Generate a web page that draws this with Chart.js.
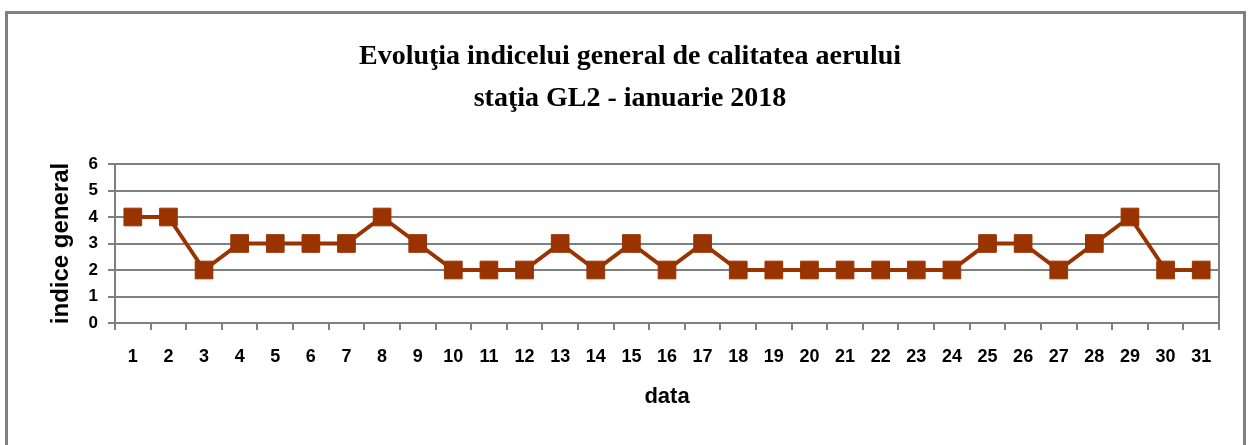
<!DOCTYPE html>
<html>
<head>
<meta charset="utf-8">
<script src="https://cdn.jsdelivr.net/npm/chart.js@4.4.0/dist/chart.umd.min.js"></script>
<style>
  body { margin: 0; background: #fff; overflow: hidden; }
  .frame {
    position: absolute; left: 5px; top: 11px;
    width: 1235px; height: 460px;
    border: 3px solid #808080;
  }
  .frame canvas { display: block; }
</style>
</head>
<body>
<div class="frame">
  <canvas id="chart" width="1235" height="431"></canvas>
</div>
<script>
// zilele lunii ianuarie 2018
const days = ['1','2','3','4','5','6','7','8','9','10','11','12','13','14','15','16',
              '17','18','19','20','21','22','23','24','25','26','27','28','29','30','31'];
// indicele general, statia GL2
const indexValues = [4,4,2,3,3,3,3,4,3,2,2,2,3,2,3,2,3,2,2,2,2,2,2,2,3,3,2,3,4,2,2];
const yTicks = [0,1,2,3,4,5,6];

const titleLines = ['Evoluţia indicelui general de calitatea aerului', 'staţia GL2 - ianuarie 2018'];
const grey = '#808080';
const brown = '#993300';

const config = {
    type: 'line',
    data: {
        labels: days,
        datasets: [{
            label: 'indice general',
            data: indexValues,
            borderColor: brown,
            backgroundColor: brown,
            borderWidth: 4,
            pointStyle: 'rect',
            pointRadius: 12.5,
            pointBorderWidth: 1,
            pointBorderColor: brown,
            pointBackgroundColor: brown,
            tension: 0
        }]
    },
    options: {
        responsive: false,
        animation: false,
        layout: { padding: { left: 33, right: 24, top: 0, bottom: 35 } },
        plugins: {
            legend: { display: false },
            tooltip: { enabled: false },
            title: {
                display: true,
                text: titleLines,
                color: '#000',
                font: { family: 'Liberation Serif', size: 28, weight: 'bold', lineHeight: 1.5 },
                padding: { top: 22, bottom: 44 }
            }
        },
        scales: {
            x: {
                offset: true,
                grid: { display: true, offset: true, drawOnChartArea: false, drawTicks: true,
                        tickLength: 7, color: grey, lineWidth: 2 },
                border: { display: true, color: grey, width: 2 },
                ticks: { color: '#000', padding: 16, maxRotation: 0, autoSkip: false,
                         font: { family: 'Liberation Sans', size: 18, weight: 'bold' } },
                title: { display: true, text: 'data', color: '#000', padding: { top: 0, bottom: 0 },
                         font: { family: 'Liberation Sans', size: 22, weight: 'bold' } }
            },
            y: {
                min: 0, max: 6,
                afterBuildTicks: (axis) => { axis.ticks = yTicks.map(v => ({ value: v })); },
                afterFit: (axis) => { axis.width = 74; },
                grid: { color: grey, lineWidth: 2, tickLength: 7 },
                border: { display: true, color: grey, width: 2 },
                ticks: { color: '#000', padding: 10,
                         font: { family: 'Liberation Sans', size: 17, weight: 'bold' } },
                title: { display: true, text: 'indice general', color: '#000', padding: 6,
                         font: { family: 'Liberation Sans', size: 24, weight: 'bold' } }
            },
            yRight: {
                position: 'right',
                min: 0, max: 6,
                grid: { drawOnChartArea: false, drawTicks: false },
                border: { display: true, color: grey, width: 2 },
                ticks: { display: false }
            }
        }
    }
};

new Chart(document.getElementById('chart'), config);
</script>
</body>
</html>
